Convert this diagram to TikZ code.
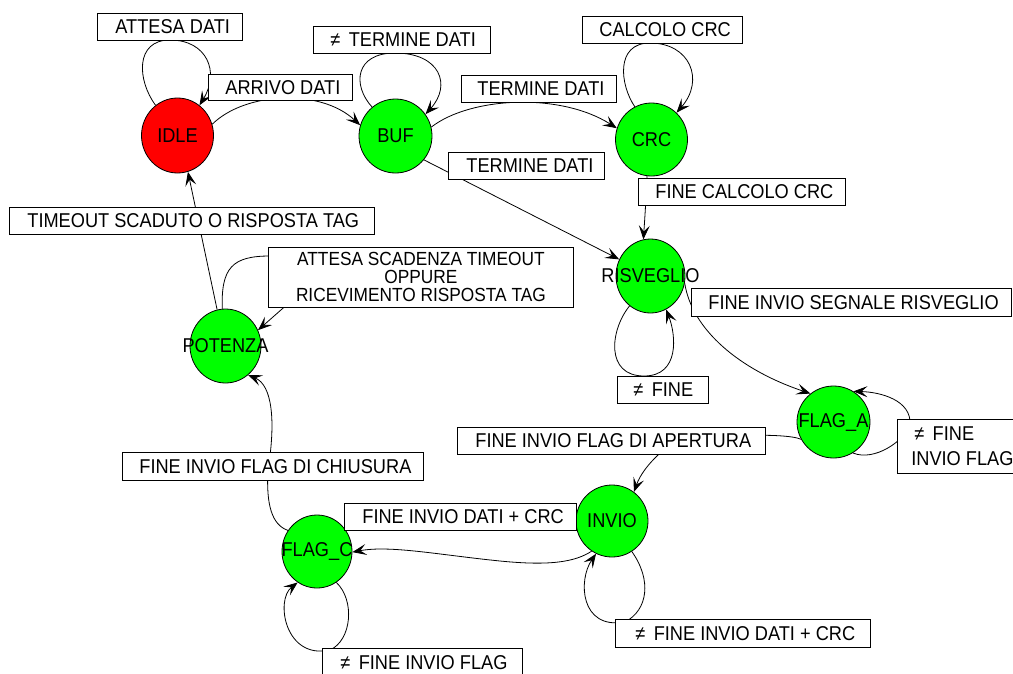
\documentclass[tikz,border=0pt]{standalone}
\usepackage{fontspec}
\setmainfont{Liberation Sans}[FakeStretch=0.91]
\usetikzlibrary{shapes.geometric,arrows.meta}
\definecolor{stategreen}{RGB}{0,255,0}
\definecolor{statered}{RGB}{255,0,0}
% state names may overflow their circle without enlarging it
\newcommand\statetext[1]{\makebox[0pt]{#1}}
% fixed-width label contents: width, left padding, text
\newcommand\boxtext[3]{\makebox[#1pt][l]{\hspace*{#2pt}#3}}

\begin{document}
\begin{tikzpicture}[x=1pt,y=-1pt,
  font=\fontsize{20}{22}\selectfont,
  state/.style={ellipse, draw=black, line width=0.8pt, inner sep=0pt, fill=stategreen},
  lbl/.style={draw=black, line width=0.8pt, fill=white, inner sep=0pt, anchor=north west},
  edge/.style={draw=black, line width=0.8pt},
  tip/.style={-{Stealth[length=14pt,width=11pt,inset=6pt]}}]

\useasboundingbox[fill=white] (0,0) rectangle (1013,673);

% ---------- states ----------
\node[state, fill=statered, minimum width=72pt, minimum height=75pt] (IDLE) at (177.5,135.5) {\statetext{IDLE}};
\node[state, minimum width=73pt, minimum height=74pt] (BUF) at (395.5,136) {\statetext{BUF}};
\node[state, minimum width=72pt, minimum height=73pt] (CRC) at (651.5,139.5) {\statetext{CRC}};
\node[state, minimum width=69pt, minimum height=74pt] (RISVEGLIO) at (650.5,276) {\statetext{RISVEGLIO}};
\node[state, minimum width=71pt, minimum height=74pt] (POTENZA) at (225.5,346) {\statetext{POTENZA}};
\node[state, minimum width=73pt, minimum height=72pt] (FLAGA) at (833.5,422) {\statetext{FLAG\_A}};
\node[state, minimum width=72pt, minimum height=72pt] (INVIO) at (612,521) {\statetext{INVIO}};
\node[state, minimum width=70pt, minimum height=73pt] (FLAGC) at (317,551.5) {\statetext{FLAG\_C}};

% ---------- transitions ----------
% IDLE
\draw[edge,tip] (IDLE.126) .. controls (137,80) and (135,40) .. (170,40)
  .. controls (207,40) and (220,72) .. (IDLE.54);
\draw[edge,tip] (IDLE.18) .. controls (245,92) and (320,88) .. (BUF.163);
% BUF
\draw[edge,tip] (BUF.129) .. controls (352,85) and (355,53) .. (395,53)
  .. controls (440,53) and (452,85) .. (BUF.36);
\draw[edge,tip] (BUF.14) .. controls (470,97) and (560,92) .. (CRC.162);
\draw[edge,tip] (BUF.-40) -- (RISVEGLIO.152);
% CRC
\draw[edge,tip] (CRC.117) .. controls (620,85) and (615,43) .. (650,43)
  .. controls (690,43) and (705,80) .. (CRC.47);
\draw[edge,tip] (CRC.-97) .. controls (646,200) and (645,215) .. (RISVEGLIO.101);
% RISVEGLIO
\draw[edge,tip] (RISVEGLIO.-125) .. controls (610,330) and (605,376) .. (644,376)
  .. controls (680,376) and (676,335) .. (RISVEGLIO.-65);
\draw[edge,tip] (RISVEGLIO.-12) .. controls (692,330) and (740,370) .. (FLAGA.129);
% FLAG_A
\draw[edge,tip] (FLAGA.-58) .. controls (875,462) and (905,440) .. (910,425)
  .. controls (912,400) and (880,392) .. (FLAGA.57);
\draw[edge,tip] (FLAGA.-152) .. controls (785,432) and (700,435) .. (670,445)
  .. controls (650,460) and (640,475) .. (INVIO.53);
% INVIO
\draw[edge,tip] (INVIO.-57) .. controls (652,580) and (648,610) .. (625,622)
  .. controls (580,630) and (578,580) .. (INVIO.-116);
\draw[edge,tip] (INVIO.-124) .. controls (575,562) and (550,566) .. (500,561)
  .. controls (440,555) and (390,545) .. (FLAGC.-1);
% FLAG_C
\draw[edge,tip] (FLAGC.-58) .. controls (355,600) and (352,640) .. (330,650)
  .. controls (285,660) and (275,600) .. (FLAGC.-122);
\draw[edge,tip] (FLAGC.144) .. controls (272,525) and (266,505) .. (268,470)
  .. controls (276,420) and (272,385) .. (POTENZA.-52);
% POTENZA
\draw[edge,tip] (POTENZA.103) -- (IDLE.-74);
\draw[edge,tip] (POTENZA.95) .. controls (221,268) and (232,256) .. (270,256)
  -- (290,302) -- (POTENZA.26);

% ---------- transition labels ----------
\node[lbl, minimum height=27pt] (lAttesa) at (97,13) {\boxtext{145}{18}{ATTESA DATI}};
\node[lbl, minimum height=27pt] (lNotTermBuf) at (313,26) {\boxtext{177}{17}{≠ \,TERMINE DATI}};
\node[lbl, minimum height=26pt] (lArrivo) at (208,74) {\boxtext{144}{17}{ARRIVO DATI}};
\node[lbl, minimum height=27pt] (lTermCrc) at (461,75) {\boxtext{155}{16}{TERMINE DATI}};
\node[lbl, minimum height=27pt] (lCalcolo) at (582,16) {\boxtext{160}{17}{CALCOLO CRC}};
\node[lbl, minimum height=27pt] (lTermRisv) at (448,152) {\boxtext{156}{18}{TERMINE DATI}};
\node[lbl, minimum height=27pt] (lFineCalc) at (638,178) {\boxtext{207}{17}{FINE CALCOLO CRC}};
\node[lbl, minimum height=27pt] (lTimeout) at (9,207) {\boxtext{365}{18}{TIMEOUT SCADUTO O RISPOSTA TAG}};
\node[lbl, minimum width=305pt, minimum height=60pt, align=center,
      font=\fontsize{19}{18}\selectfont] (lAttesaTimeout) at (268,247)
  {ATTESA SCADENZA TIMEOUT\\OPPURE\\RICEVIMENTO RISPOSTA TAG};
\node[lbl, minimum height=28pt] (lSegnale) at (691,288) {\boxtext{320}{17}{FINE INVIO SEGNALE RISVEGLIO}};
\node[lbl, minimum height=27pt] (lNotFine) at (617,376) {\boxtext{91}{16}{≠ \,FINE}};
\node[lbl, minimum height=27pt] (lApertura) at (457,427) {\boxtext{308}{18}{FINE INVIO FLAG DI APERTURA}};
\node[lbl, minimum width=130pt, minimum height=54pt, align=left, inner xsep=11pt,
      font=\fontsize{20}{25}\selectfont] (lNotFineFlag) at (897,419)
  {\hspace*{3pt}≠ \,FINE\\INVIO FLAG};
\node[lbl, minimum height=28pt] (lChiusura) at (122,452) {\boxtext{301}{17}{FINE INVIO FLAG DI CHIUSURA}};
\node[lbl, minimum height=27pt] (lFineDati) at (344,503) {\boxtext{232}{18}{FINE INVIO DATI + CRC}};
\node[lbl, minimum height=28pt] (lNotFineDati) at (615,619) {\boxtext{255}{20}{≠ \,FINE INVIO DATI + CRC}};
\node[lbl, minimum height=28pt] (lNotFineFlagC) at (322,648) {\boxtext{200}{18}{≠ \,FINE INVIO FLAG}};

\end{tikzpicture}
\end{document}
